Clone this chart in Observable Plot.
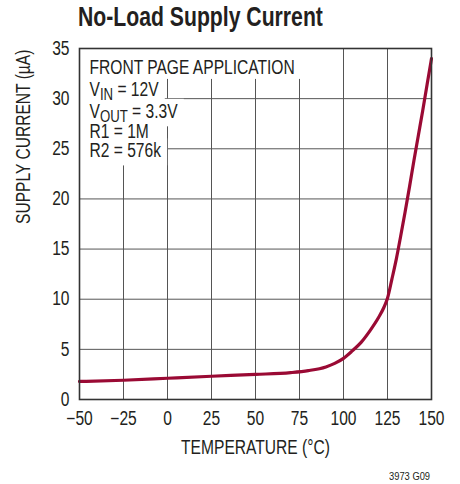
<!DOCTYPE html>
<html>
<head>
<meta charset="utf-8">
<script src="https://cdn.jsdelivr.net/npm/d3@7"></script>
<script src="https://cdn.jsdelivr.net/npm/@observablehq/plot@0.6"></script>
<style>
  html, body { margin: 0; padding: 0; background: #fff; }
  body { width: 460px; height: 484px; position: relative; overflow: hidden;
         font-family: "Liberation Sans", Arial, sans-serif; }
  #chart { position: absolute; left: 0; top: 30px; }
  #title { position: absolute; left: 77.5px; top: 3.8px; font-size: 27px; line-height: 1; font-weight: bold; color: #231f20; white-space: nowrap;
           transform: scaleX(0.785); transform-origin: 0 0; }
  #caption { position: absolute; left: 389px; top: 470.7px; font-size: 11px; line-height: 1; color: #231f20; white-space: nowrap;
             transform: scaleX(0.85); transform-origin: 0 0; }
</style>
</head>
<body>
<div id="chart"></div>
<div id="title">No-Load Supply Current</div>
<div id="caption">3973 G09</div>
<script>
// ---- data ----
const temperature = [-50, -25, 0, 25, 50, 70, 80, 90, 95, 100, 105, 110, 115, 120, 123, 125, 127.5, 130, 132.5, 135, 137.5, 140, 142.5, 145, 147.5, 150];
const current     = [1.8, 1.92, 2.12, 2.32, 2.5, 2.68, 2.88, 3.25, 3.6, 4.1, 4.85, 5.7, 6.85, 8.2, 9.2, 10.1, 12.0, 14.0, 16.3, 18.7, 21.2, 23.8, 26.3, 28.8, 31.4, 34.0];
const xTicks = [-50, -25, 0, 25, 50, 75, 100, 125, 150];
const yTicks = [0, 5, 10, 15, 20, 25, 30, 35];
const xLabel = "TEMPERATURE (°C)";
const yLabel = "SUPPLY CURRENT (µA)";
const annoMain = ["FRONT PAGE APPLICATION", "V", "V", "R1 = 1M", "R2 = 576k"];
const annoSub  = ["", "IN", "OUT", "", ""];
const annoRest = ["", " = 12V", " = 3.3V", "", ""];

const points = temperature.map((t, i) => ({t, i: current[i]}));
const FONT = '"Liberation Sans", Arial, sans-serif';
const INK = "#231f20";
const FS = 19.5;          // font size before horizontal condensing
const SQUEEZE = 0.8;      // horizontal condensing to mimic a condensed face
const annoDy = [25, 47, 69, 89.5, 108.5];

const annoMarks = annoMain.map((m, k) =>
  Plot.text([m + annoSub[k] + annoRest[k]], {
    text: d => d, frameAnchor: "top-left", lineAnchor: "bottom", textAnchor: "start",
    dx: 10, dy: annoDy[k], fontSize: FS, fill: INK
  })
);

const W = 460, H = 430, ML = 79, MR = 29, MT = 18, MB = 61;

const chart = Plot.plot({
  width: W, height: H,
  marginLeft: ML, marginRight: MR, marginTop: MT, marginBottom: MB,
  style: {fontFamily: FONT, fontSize: FS + "px", color: INK, background: "transparent", overflow: "visible"},
  x: {domain: [-50, 150], ticks: xTicks},
  y: {domain: [0, 35], ticks: yTicks},
  marks: [
    Plot.gridX(xTicks, {stroke: "#555", strokeOpacity: 1, strokeWidth: 1}),
    Plot.gridY(yTicks, {stroke: "#555", strokeOpacity: 1, strokeWidth: 1}),
    Plot.line(points, {x: "t", y: "i", stroke: "#9a0a34", strokeWidth: 3.2, curve: "monotone-x"}),
    ...annoMarks,
    Plot.frame({stroke: "#333", strokeWidth: 1.6}),
    Plot.axisX(xTicks, {tickSize: 0, tickPadding: 12, fontSize: FS, label: null, fill: INK}),
    Plot.axisY(yTicks, {tickSize: 0, tickPadding: 10, fontSize: FS, label: null, fill: INK}),
    Plot.text([xLabel], {text: d => d, frameAnchor: "bottom", lineAnchor: "bottom", dy: 54, fontSize: FS, fill: INK}),
    Plot.text([yLabel], {text: d => d, frameAnchor: "left", lineAnchor: "middle", rotate: -90, dx: -56, fontSize: FS, fill: INK})
  ]
});

document.getElementById("chart").appendChild(chart);

const svgNS = "http://www.w3.org/2000/svg";
const texts = Array.from(chart.querySelectorAll("text"));
const annoEls = annoMain.map((m, k) => texts.find(t => t.textContent === m + annoSub[k] + annoRest[k]));

// subscripts
annoEls.forEach((el, k) => {
  if (!el || !annoSub[k]) return;
  el.textContent = "";
  const a = document.createElementNS(svgNS, "tspan"); a.textContent = annoMain[k];
  const b = document.createElementNS(svgNS, "tspan"); b.textContent = annoSub[k];
  b.setAttribute("dy", "4.5"); b.setAttribute("font-size", "16.5");
  const c = document.createElementNS(svgNS, "tspan"); c.textContent = annoRest[k];
  c.setAttribute("dy", "-4.5");
  el.append(a, b, c);
});

// condense every text horizontally about its own anchor point
texts.forEach(el => {
  const x = el.getAttribute("x");
  let tr = el.getAttribute("transform") || "";
  if (x && !x.endsWith("em") && +x !== 0) { tr += ` translate(${x},0)`; el.removeAttribute("x"); }
  el.setAttribute("transform", (tr + ` scale(${SQUEEZE},1)`).trim());
});

// white masks behind the annotation lines (from their measured boxes)
const firstG = annoEls[0] && annoEls[0].closest("g");
if (firstG) {
  const maskG = document.createElementNS(svgNS, "g");
  const svgBox = chart.getBoundingClientRect();
  annoEls.forEach((el, k) => {
    if (!el) return;
    const r = el.getBoundingClientRect();
    const x0 = ML + 1;
    const y0 = k === 0 ? MT + 1 : r.top - svgBox.top - 1;
    const y1 = r.bottom - svgBox.top + (k === annoEls.length - 1 ? 4 : 1);
    const x1 = r.right - svgBox.left + 6;
    const rect = document.createElementNS(svgNS, "rect");
    rect.setAttribute("x", x0); rect.setAttribute("y", y0);
    rect.setAttribute("width", x1 - x0); rect.setAttribute("height", y1 - y0);
    rect.setAttribute("fill", "white");
    maskG.appendChild(rect);
  });
  firstG.parentNode.insertBefore(maskG, firstG);
}
</script>
</body>
</html>
